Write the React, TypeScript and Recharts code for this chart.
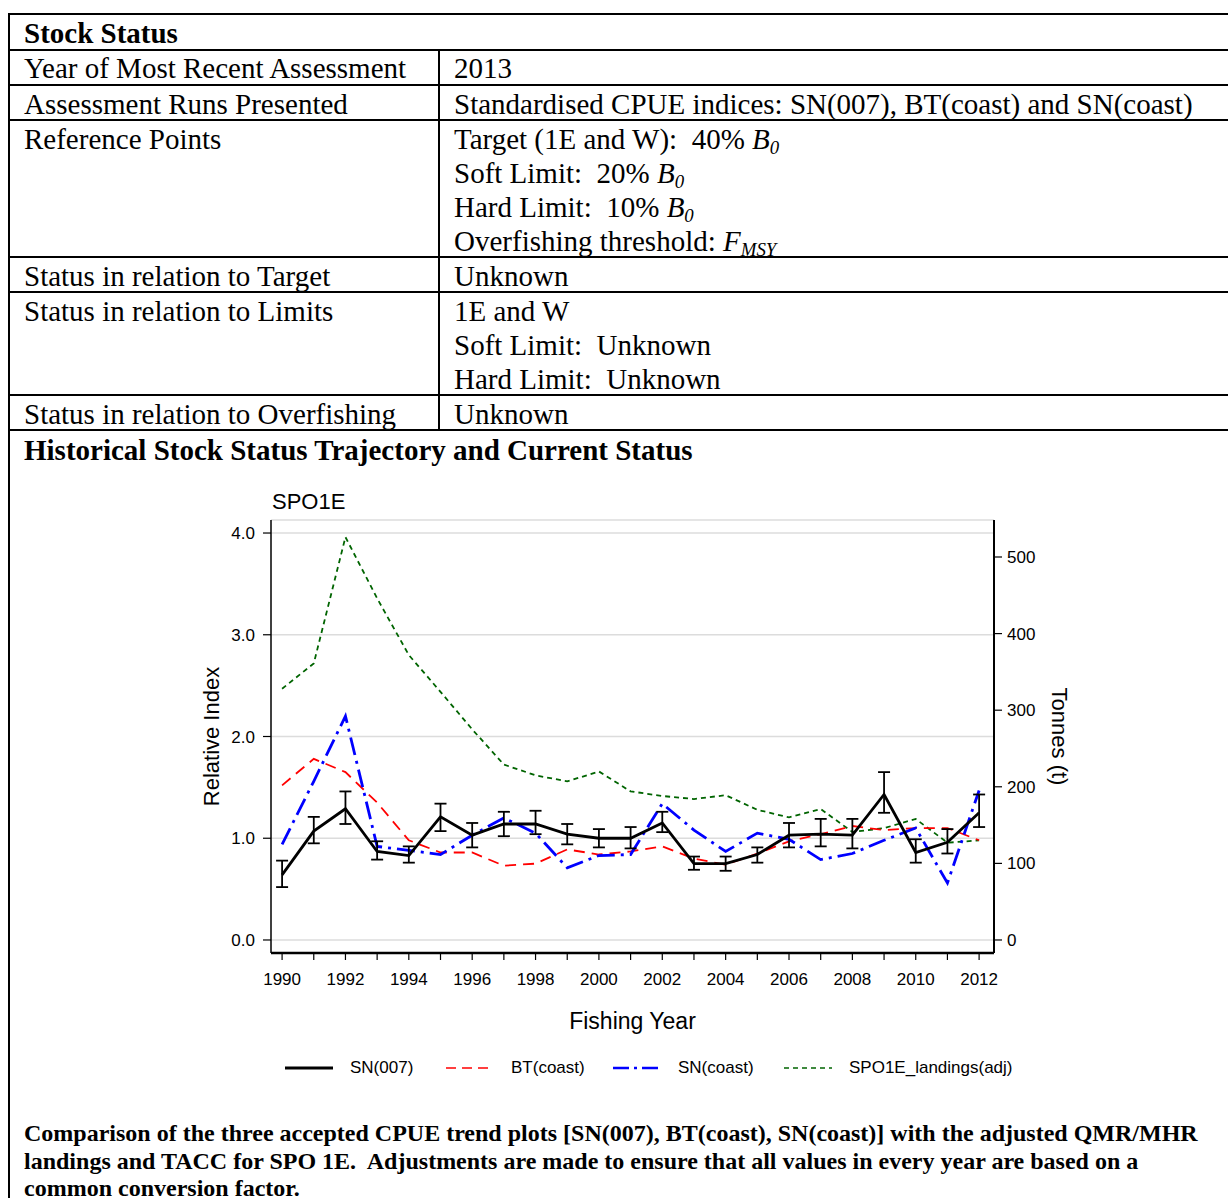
import React from 'react';
import {
  ComposedChart, Line, XAxis, YAxis, CartesianGrid, ErrorBar,
} from 'recharts';

const years = [1990, 1991, 1992, 1993, 1994, 1995, 1996, 1997, 1998, 1999, 2000, 2001, 2002, 2003, 2004, 2005, 2006, 2007, 2008, 2009, 2010, 2011, 2012];
const sn007 = [0.64, 1.07, 1.29, 0.87, 0.83, 1.21, 1.03, 1.14, 1.14, 1.04, 1.0, 1.0, 1.15, 0.75, 0.75, 0.84, 1.03, 1.04, 1.03, 1.43, 0.86, 0.96, 1.25];
const sn007Lower = [0.52, 0.95, 1.14, 0.79, 0.76, 1.07, 0.91, 1.02, 1.04, 0.94, 0.91, 0.9, 1.06, 0.69, 0.68, 0.76, 0.91, 0.92, 0.9, 1.25, 0.76, 0.85, 1.11];
const sn007Upper = [0.78, 1.21, 1.46, 0.97, 0.92, 1.34, 1.15, 1.26, 1.27, 1.14, 1.09, 1.11, 1.26, 0.82, 0.82, 0.91, 1.15, 1.19, 1.19, 1.65, 0.99, 1.09, 1.43];
const btCoast = [1.52, 1.78, 1.65, 1.35, 0.98, 0.86, 0.86, 0.73, 0.75, 0.89, 0.84, 0.87, 0.92, 0.8, 0.74, 0.85, 0.97, 1.04, 1.12, 1.08, 1.1, 1.1, 0.98];
const snCoast = [0.94, 1.56, 2.2, 0.92, 0.88, 0.84, 1.03, 1.2, 1.05, 0.71, 0.83, 0.84, 1.34, 1.08, 0.87, 1.05, 0.99, 0.79, 0.85, 0.98, 1.1, 0.56, 1.47];
const landings = [328, 361, 526, 446, 372, 324, 275, 229, 215, 207, 220, 194, 188, 184, 189, 170, 160, 171, 141, 146, 158, 127, 130];

const leftTicks = [0, 1, 2, 3, 4];
const rightTicks = [0, 100, 200, 300, 400, 500];

const data = years.map((year, i) => ({
  year,
  sn007: sn007[i],
  err: [sn007[i] - sn007Lower[i], sn007Upper[i] - sn007[i]],
  bt: btCoast[i],
  snc: snCoast[i],
  land: landings[i],
}));

const serif = '"Liberation Serif", "Times New Roman", serif';
const sans = '"Liberation Sans", Arial, sans-serif';

const hLines = [14, 50, 85, 120, 257, 292, 395, 430];

type Row = { top: number; left: number; content: React.ReactNode; bold?: boolean };

const B0 = () => (
  <i>B<sub style={{ fontSize: '0.65em', verticalAlign: '-0.25em' }}>0</sub></i>
);

const rows: Row[] = [
  { top: 33, left: 24, content: 'Stock Status', bold: true },
  { top: 68, left: 24, content: 'Year of Most Recent Assessment' },
  { top: 68, left: 454, content: '2013' },
  { top: 104, left: 24, content: 'Assessment Runs Presented' },
  { top: 104, left: 454, content: 'Standardised CPUE indices: SN(007), BT(coast) and SN(coast)' },
  { top: 139, left: 24, content: 'Reference Points' },
  { top: 139, left: 454, content: <>Target (1E and W):&nbsp; 40% <B0 /></> },
  { top: 173, left: 454, content: <>Soft Limit:&nbsp; 20% <B0 /></> },
  { top: 207, left: 454, content: <>Hard Limit:&nbsp; 10% <B0 /></> },
  { top: 241, left: 454, content: <>Overfishing threshold: <i>F<sub style={{ fontSize: '0.65em', verticalAlign: '-0.25em' }}>MSY</sub></i></> },
  { top: 276, left: 24, content: 'Status in relation to Target' },
  { top: 276, left: 454, content: 'Unknown' },
  { top: 311, left: 24, content: 'Status in relation to Limits' },
  { top: 311, left: 454, content: '1E and W' },
  { top: 345, left: 454, content: 'Soft Limit:  Unknown' },
  { top: 379, left: 454, content: 'Hard Limit:  Unknown' },
  { top: 414, left: 24, content: 'Status in relation to Overfishing' },
  { top: 414, left: 454, content: 'Unknown' },
  { top: 450, left: 24, content: 'Historical Stock Status Trajectory and Current Status', bold: true },
];

const legendItems = [
  { label: 'SN(007)', color: '#000000', dash: '', width: 3, x: 285 },
  { label: 'BT(coast)', color: '#ff0000', dash: '10 6', width: 1.5, x: 446 },
  { label: 'SN(coast)', color: '#0000ff', dash: '16 5 3 5', width: 2.5, x: 613 },
  { label: 'SPO1E_landings(adj)', color: '#006400', dash: '5 4', width: 1.5, x: 784 },
];

export default function App() {
  return (
    <div style={{ position: 'absolute', left: 0, top: 0, width: 1228, height: 1198, overflow: 'hidden', background: '#fff', fontFamily: serif, color: '#000' }}>
      {hLines.map((y) => (
        <div key={y} style={{ position: 'absolute', left: 8, top: y - 1, width: 1228, height: 2, background: '#000' }} />
      ))}
      <div style={{ position: 'absolute', left: 8, top: 13, width: 2, height: 1198, background: '#000' }} />
      <div style={{ position: 'absolute', left: 438, top: 50, width: 2, height: 380, background: '#000' }} />
      {rows.map((r, i) => (
        <div key={i} style={{ position: 'absolute', left: r.left, top: r.top - 17, height: 34, lineHeight: '34px', fontSize: 29, fontWeight: r.bold ? 'bold' : 'normal', whiteSpace: 'pre' }}>
          {r.content}
        </div>
      ))}

      <div style={{ position: 'absolute', left: 272, top: 489, fontFamily: sans, fontSize: 22, lineHeight: '26px' }}>SPO1E</div>

      <div style={{ position: 'absolute', left: 100, top: 480 }}>
        <ComposedChart width={1040} height={560} data={data} margin={{ top: 40, right: 14, bottom: 4, left: 51 }}>
          <CartesianGrid xAxisId="bottom" yAxisId="left" vertical={false} stroke="#dcdcdc" strokeWidth={1.5} />
          <XAxis
            xAxisId="bottom"
            dataKey="year"
            type="number"
            domain={[1989.65, 2012.47]}
            ticks={years}
            interval={0}
            tickFormatter={(v: number) => (v % 2 === 0 ? String(v) : '')}
            tick={{ fill: '#000', fontSize: 17, fontFamily: sans }}
            tickSize={7}
            tickMargin={13}
            tickLine={{ stroke: '#000', strokeWidth: 1.2 }}
            axisLine={{ stroke: '#000', strokeWidth: 2.5 }}
            height={83}
            label={{ value: 'Fishing Year', position: 'insideBottom', offset: 7, fill: '#000', fontSize: 23, fontFamily: sans }}
          />
          <XAxis xAxisId="top" orientation="top" dataKey="year" type="number" domain={[1989.65, 2012.47]} tick={false} tickLine={false} height={0} axisLine={{ stroke: '#000', strokeWidth: 1.5 }} />
          <YAxis
            yAxisId="left"
            type="number"
            domain={[-0.128, 4.128]}
            ticks={leftTicks}
            interval={0}
            tickFormatter={(v: number) => v.toFixed(1)}
            tick={{ fill: '#000', fontSize: 17, fontFamily: sans }}
            tickSize={8}
            tickMargin={8}
            tickLine={{ stroke: '#000', strokeWidth: 1.2 }}
            axisLine={{ stroke: '#000', strokeWidth: 1.5 }}
            width={120}
            label={{ value: 'Relative Index', angle: -90, position: 'center', fill: '#000', fontSize: 22, fontFamily: sans }}
          />
          <YAxis
            yAxisId="right"
            orientation="right"
            type="number"
            domain={[-17, 548.3]}
            ticks={rightTicks}
            interval={0}
            tick={{ fill: '#000', fontSize: 17, fontFamily: sans }}
            tickSize={8}
            tickMargin={5}
            tickLine={{ stroke: '#000', strokeWidth: 1.2 }}
            axisLine={{ stroke: '#000', strokeWidth: 2 }}
            width={132}
            label={{ value: 'Tonnes (t)', angle: 90, position: 'center', fill: '#000', fontSize: 22, fontFamily: sans }}
          />
          <Line xAxisId="bottom" yAxisId="right" type="linear" dataKey="land" stroke="#006400" strokeWidth={1.8} strokeDasharray="5 4" dot={false} isAnimationActive={false} />
          <Line xAxisId="bottom" yAxisId="left" type="linear" dataKey="bt" stroke="#ff0000" strokeWidth={1.8} strokeDasharray="11 7" dot={false} isAnimationActive={false} />
          <Line xAxisId="bottom" yAxisId="left" type="linear" dataKey="snc" stroke="#0000ff" strokeWidth={2.8} strokeDasharray="18 6 3 6" dot={false} isAnimationActive={false} />
          <Line xAxisId="bottom" yAxisId="left" type="linear" dataKey="sn007" stroke="#000000" strokeWidth={2.8} dot={false} isAnimationActive={false}>
            <ErrorBar dataKey="err" width={6} stroke="#000" strokeWidth={1.8} direction="y" />
          </Line>
        </ComposedChart>
      </div>

      {legendItems.map((it) => (
        <div key={it.label} style={{ position: 'absolute', left: it.x, top: 1057, height: 22, display: 'flex', alignItems: 'center', fontFamily: sans, fontSize: 17 }}>
          <svg width={48} height={22} style={{ display: 'block' }}>
            <line x1={0} y1={11} x2={48} y2={11} stroke={it.color} strokeWidth={it.width} strokeDasharray={it.dash || undefined} />
          </svg>
          <span style={{ marginLeft: 17 }}>{it.label}</span>
        </div>
      ))}

      <div style={{ position: 'absolute', left: 24, top: 1120, width: 1200, fontSize: 24, lineHeight: '27.5px', fontWeight: 'bold', whiteSpace: 'nowrap' }}>
        Comparison of the three accepted CPUE trend plots [SN(007), BT(coast), SN(coast)] with the adjusted QMR/MHR<br />
        landings and TACC for SPO 1E.&nbsp; Adjustments are made to ensure that all values in every year are based on a<br />
        common conversion factor.
      </div>
    </div>
  );
}
